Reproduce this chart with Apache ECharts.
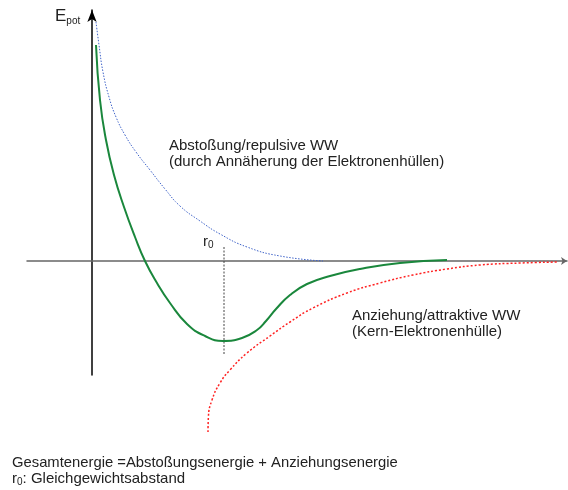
<!DOCTYPE html>
<html>
<head>
<meta charset="utf-8">
<script src="https://cdn.jsdelivr.net/npm/echarts@6/dist/echarts.min.js"></script>
<style>
  html, body { margin: 0; padding: 0; background: #fff; }
  #chart { width: 568px; height: 490px; }
</style>
</head>
<body>
<div id="chart"></div>
<script>
// Abstand r (Achseneinheiten) und Energie E_pot
const repulsiveR = [0.2, 0.35, 0.55, 0.85, 1.2, 1.65, 2.2, 2.9, 3.65, 4.4, 5.4, 6.4, 7.75, 9.4, 11.55]
const repulsiveE = [11.95, 10.8, 9.45, 8.2, 7.2, 6.3, 5.45, 4.55, 3.6, 2.75, 2.0, 1.35, 0.7, 0.25, 0]

const attractiveR = [5.8, 5.82, 6.0, 6.4, 6.9, 7.75, 8.9, 9.9, 11.05, 12.75, 14.4, 16.05, 17.75, 19.4, 21.4, 23.3]
const attractiveE = [-8.55, -7.8, -6.95, -6.1, -5.45, -4.6, -3.75, -3.05, -2.35, -1.6, -1.1, -0.7, -0.4, -0.2, -0.1, -0.05]

const totalR = [0.2, 0.4, 0.7, 1.1, 1.6, 2.15, 2.65, 3.25, 3.9, 4.75, 5.65, 6.55, 7.5, 8.25, 8.7, 9.2, 9.9, 10.75, 11.9, 13.4, 15.4, 17.75]
const totalE = [10.8, 8.05, 6.05, 4.3, 2.7, 1.2, 0, -1.1, -2.1, -3.15, -3.75, -4.0, -3.85, -3.45, -3.0, -2.4, -1.7, -1.15, -0.75, -0.4, -0.1, 0.05]

// Gleichgewichtsabstand r0 und Länge der Hilfslinie
const r0 = 6.6
const r0LineE = [0.7, -4.7]

const zip = (xs, ys) => xs.map((x, i) => [x, ys[i]])

const chart = echarts.init(document.getElementById('chart'))

const FONT = 'Liberation Sans, Arial, sans-serif'
const textStyle = { fontFamily: FONT, fontSize: 15, fill: '#222', lineHeight: 16 }
const subRich = (pad) => ({ s: { fontSize: 10, fontFamily: FONT, fill: '#222', padding: [pad, 0, 0, 0] } })

chart.setOption({
  animation: false,
  grid: { left: 27, right: 1, top: 10, bottom: 115 },
  xAxis: {
    type: 'value',
    min: -3.25,
    max: 23.75,
    axisLine: {
      show: true,
      onZero: true,
      symbol: ['none', 'arrow'],
      symbolSize: [6, 6],
      lineStyle: { color: '#666', width: 1.5 }
    },
    axisTick: { show: false },
    axisLabel: { show: false },
    splitLine: { show: false }
  },
  yAxis: {
    type: 'value',
    min: -5.7,
    max: 12.55,
    axisLine: {
      show: true,
      onZero: true,
      symbol: ['none', 'arrow'],
      symbolSize: [7, 12],
      lineStyle: { color: '#000', width: 1.5 }
    },
    axisTick: { show: false },
    axisLabel: { show: false },
    splitLine: { show: false }
  },
  series: [
    {
      name: 'Abstoßung',
      type: 'line',
      data: zip(repulsiveR, repulsiveE),
      smooth: 0.5,
      showSymbol: false,
      lineStyle: { color: '#3f63c8', width: 1, type: [1.5, 1.5] },
      z: 2
    },
    {
      name: 'Anziehung',
      type: 'line',
      data: zip(attractiveR, attractiveE),
      smooth: 0.5,
      clip: false,
      showSymbol: false,
      lineStyle: { color: '#f22', width: 1.5, type: [2, 2] },
      z: 2
    },
    {
      name: 'Gesamtenergie',
      type: 'line',
      data: zip(totalR, totalE),
      smooth: 0.5,
      showSymbol: false,
      lineStyle: { color: '#1a873c', width: 2 },
      z: 3
    },
    {
      name: 'r0',
      type: 'line',
      data: r0LineE.map(e => [r0, e]),
      showSymbol: false,
      lineStyle: { color: '#444', width: 1, type: [2, 1.5] },
      z: 1
    }
  ],
  graphic: [
    {
      type: 'text', left: 55, top: 8,
      style: {
        text: 'E{s|pot}',
        font: '17px ' + FONT,
        fill: '#222',
        rich: subRich(9)
      }
    },
    {
      type: 'text', left: 169, top: 138,
      style: Object.assign({ text: 'Abstoßung/repulsive WW\n(durch Annäherung der Elektronenhüllen)' }, textStyle)
    },
    {
      type: 'text', left: 352, top: 308,
      style: Object.assign({ text: 'Anziehung/attraktive WW\n(Kern-Elektronenhülle)' }, textStyle)
    },
    {
      type: 'text', left: 203, top: 234,
      style: {
        text: 'r{s|0}',
        font: '15px ' + FONT,
        fill: '#222',
        rich: subRich(7)
      }
    },
    {
      type: 'text', left: 12, top: 455,
      style: Object.assign({ text: 'Gesamtenergie =Abstoßungsenergie + Anziehungsenergie' }, textStyle, { fontSize: 14.8 })
    },
    {
      type: 'text', left: 12, top: 471,
      style: {
        text: 'r{s|0}: Gleichgewichtsabstand',
        font: '15px ' + FONT,
        fill: '#222',
        rich: subRich(7)
      }
    }
  ]
})
</script>
</body>
</html>
